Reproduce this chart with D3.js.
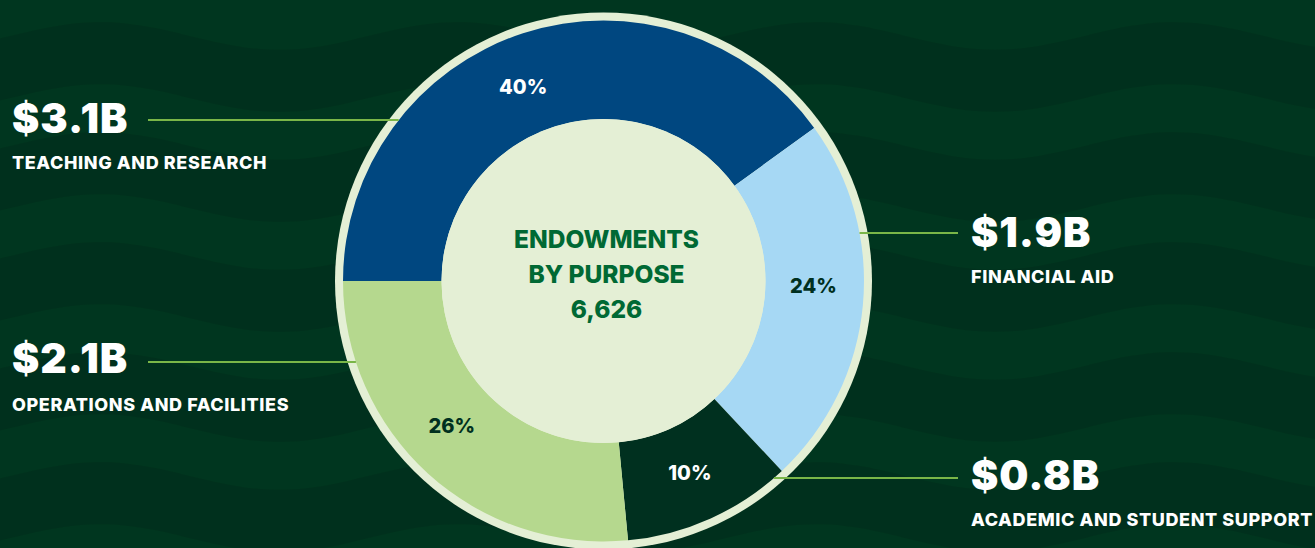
<!DOCTYPE html>
<html><head><meta charset="utf-8">
<script src="https://cdn.jsdelivr.net/npm/d3@7/dist/d3.min.js"></script>
<style>
html,body{margin:0;padding:0;background:#00331f;}
svg{display:block;}
text{font-family:Inter,"Roboto","Liberation Sans",sans-serif;}
</style></head>
<body>
<svg id="chart" width="1315" height="548"></svg>
<script>
// Data
const categories = ["TEACHING AND RESEARCH","FINANCIAL AID","ACADEMIC AND STUDENT SUPPORT","OPERATIONS AND FACILITIES"];
const values = [3.1, 1.9, 0.8, 2.1];                 // $ billions
const sliceShares = [40, 23, 10.5, 26.5];             // drawn slice sizes (%)
const valueLabels = ["$3.1B","$1.9B","$0.8B","$2.1B"];
const pctLabels = ["40%","24%","10%","26%"];
const centerLines = ["ENDOWMENTS","BY PURPOSE","6,626"];

// Styles
const colors = ["#004780","#a6d8f4","#00301f","#b5d88e"];
const pctColors = ["#ffffff","#00301f","#ffffff","#00301f"];
const labelNudgeDeg = [-4.5, -4, 0, 4];

const W = 1315, H = 548;
const cx = 603.5, cy = 281;
const rOuter = 260.5, rInner = 162, rRing = 268.5;

const svg = d3.select("#chart");

// background waves (decorative)
const bg = svg.append("g");
bg.append("rect").attr("width",W).attr("height",H).attr("fill","#00361f");
const waveLine = d3.line().curve(d3.curveBasis);
for (let k = 0; k < 6; k++) {
  const y0 = 36 + k*110;
  const top = [], bot = [];
  for (let x = -40; x <= W + 40; x += 15) {
    const ph = (x - 100)/358*2*Math.PI;
    top.push([x, y0 - 14*Math.cos(ph)]);
    bot.push([x, y0 + 62 - 14*Math.cos(ph)]);
  }
  bot.reverse();
  bg.append("path")
    .attr("d", waveLine(top) + "L" + waveLine(bot).slice(1) + "Z")
    .attr("fill", "#002f1d").attr("opacity", 0.8);
}

// ring background
svg.append("circle").attr("cx",cx).attr("cy",cy).attr("r",rRing).attr("fill","#e4efd5");

const pie = d3.pie().sort(null).value(d=>d).startAngle(-Math.PI/2).endAngle(1.5*Math.PI);
const arcs = pie(sliceShares);
const arc = d3.arc().innerRadius(rInner).outerRadius(rOuter);
const rLabel = 210;

const g = svg.append("g").attr("transform",`translate(${cx},${cy})`);
g.selectAll("path.slice").data(arcs).join("path")
  .attr("class","slice").attr("d",arc).attr("fill",(d,i)=>colors[i]);
g.append("circle").attr("r",rInner).attr("fill","#e4efd5");

g.selectAll("text.pct").data(arcs).join("text")
  .attr("class","pct")
  .attr("transform",(d,i)=>{
    const a = (d.startAngle + d.endAngle)/2 + labelNudgeDeg[i]*Math.PI/180;
    return `translate(${rLabel*Math.sin(a)},${-rLabel*Math.cos(a)})`;
  })
  .attr("text-anchor","middle").attr("dy","0.36em")
  .attr("font-size",20).attr("font-weight",800)
  .attr("fill",(d,i)=>pctColors[i])
  .text((d,i)=>pctLabels[i]);

// center text
g.selectAll("text.center").data(centerLines).join("text")
  .attr("class","center")
  .attr("x",3).attr("y",(d,i)=>-33 + i*35)
  .attr("text-anchor","middle")
  .attr("font-size",24.5).attr("font-weight",800)
  .attr("fill","#006934")
  .text(d=>d);

// callouts
const callouts = [
  {i:0, side:"left",  lineY:120, valY:133, catY:169},
  {i:1, side:"right", lineY:233, valY:247, catY:283},
  {i:2, side:"right", lineY:478, valY:490, catY:526},
  {i:3, side:"left",  lineY:362, valY:373, catY:411}
];
const lg = svg.append("g");
callouts.forEach(c=>{
  const dy = c.lineY - cy;
  const dx = Math.sqrt(rOuter*rOuter - dy*dy);
  const tx = c.side==="left" ? 12 : 971;
  const x1 = c.side==="left" ? 148 : cx + dx;
  const x2 = c.side==="left" ? cx - dx : 958;
  lg.append("line").attr("x1",x1).attr("x2",x2).attr("y1",c.lineY).attr("y2",c.lineY)
    .attr("stroke","#7ab648").attr("stroke-width",2);
  lg.append("text").attr("x",tx).attr("y",c.valY)
    .attr("font-size",41).attr("font-weight",900).attr("fill","#ffffff")
    .attr("letter-spacing","1")
    .text(valueLabels[c.i]);
  lg.append("text").attr("x",tx).attr("y",c.catY)
    .attr("font-size",18).attr("font-weight",800).attr("fill","#ffffff")
    .attr("letter-spacing","0.6")
    .text(categories[c.i]);
});
</script>
</body></html>
